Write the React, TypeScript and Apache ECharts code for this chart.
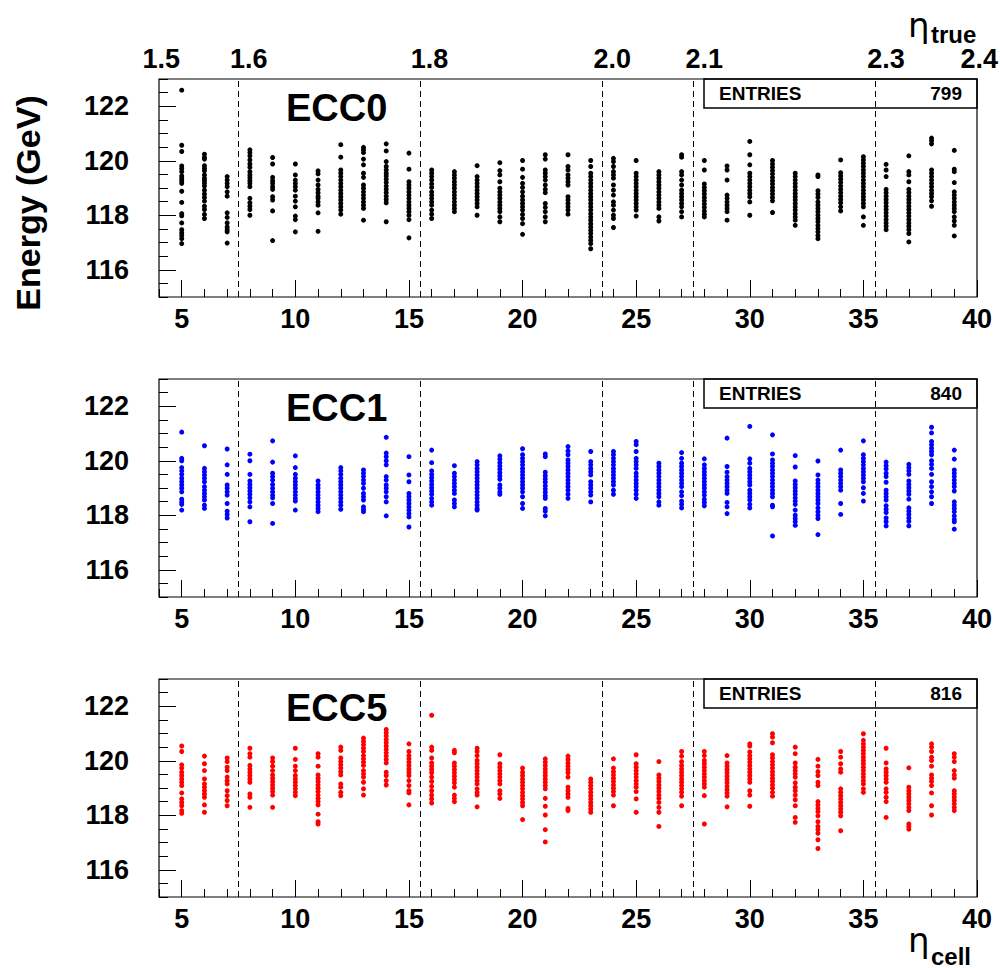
import React, { useEffect, useRef } from "react";
import * as echarts from "echarts";

const cells = [5, 6, 7, 8, 9, 10, 11, 12, 13, 14, 15, 16, 17, 18, 19, 20, 21, 22, 23, 24, 25, 26, 27, 28, 29, 30, 31, 32, 33, 34, 35, 36, 37, 38, 39];

const ecc0Energies = [
  [122.59, 120.57, 120.34, 119.81, 119.71, 119.6, 119.44, 119.34, 119.26, 119.17, 118.88, 118.47, 118.06, 117.98, 117.72, 117.47, 117.36, 117.26, 117.14, 116.96],
  [120.24, 120.12, 120.06, 119.82, 119.72, 119.63, 119.48, 119.36, 119.27, 119.17, 119.07, 118.92, 118.78, 118.65, 118.52, 118.33, 118.21, 118.03, 117.88],
  [119.42, 119.29, 119.17, 119.05, 118.86, 118.7, 118.09, 117.92, 117.72, 117.57, 117.47, 117.39, 116.98],
  [120.4, 120.3, 120.18, 120.03, 119.88, 119.76, 119.6, 119.48, 119.38, 119.27, 119.17, 119.05, 118.62, 118.46, 118.33, 118.21, 118.0],
  [120.12, 119.88, 119.39, 119.27, 119.17, 119.05, 118.95, 118.68, 118.56, 118.16, 117.07],
  [119.88, 119.48, 119.29, 119.17, 119.05, 118.92, 118.7, 118.52, 118.31, 117.97, 117.84, 117.39],
  [119.63, 119.52, 119.29, 119.11, 118.95, 118.83, 118.7, 118.62, 118.49, 118.37, 118.09, 117.41],
  [120.59, 120.13, 119.66, 119.54, 119.42, 119.29, 119.17, 119.05, 118.92, 118.8, 118.68, 118.56, 118.43, 118.31, 118.19, 118.04],
  [120.49, 120.4, 120.3, 120.06, 119.85, 119.54, 119.39, 119.11, 118.99, 118.86, 118.74, 118.62, 118.49, 118.37, 118.25, 117.82],
  [120.62, 120.36, 119.97, 119.79, 119.66, 119.54, 119.44, 119.32, 119.2, 119.07, 118.95, 118.83, 118.7, 118.58, 118.46, 117.76],
  [120.28, 119.69, 119.23, 119.11, 118.99, 118.86, 118.74, 118.62, 118.49, 118.37, 118.25, 118.13, 118.0, 117.84, 117.17],
  [119.66, 119.54, 119.42, 119.29, 119.15, 119.02, 118.86, 118.74, 118.62, 118.49, 118.37, 118.19, 118.04, 117.88],
  [119.6, 119.48, 119.36, 119.23, 119.11, 118.99, 118.86, 118.74, 118.62, 118.49, 118.37, 118.25, 118.13],
  [119.82, 119.42, 119.29, 119.17, 119.05, 118.92, 118.8, 118.68, 118.56, 118.43, 118.31, 118.0],
  [119.93, 119.64, 119.48, 119.23, 118.99, 118.86, 118.74, 118.62, 118.49, 118.37, 118.25, 118.13, 117.94, 117.76],
  [120.01, 119.69, 119.39, 119.17, 119.02, 118.86, 118.7, 118.56, 118.43, 118.31, 118.19, 118.03, 117.88, 117.69, 117.3],
  [120.22, 120.06, 119.66, 119.54, 119.42, 119.29, 119.11, 118.95, 118.83, 118.43, 118.29, 118.13, 117.94, 117.76],
  [120.22, 119.79, 119.66, 119.48, 119.36, 119.23, 119.11, 118.68, 118.56, 118.43, 118.31, 118.19, 118.04],
  [120.01, 119.79, 119.54, 119.42, 119.29, 119.17, 119.05, 118.92, 118.8, 118.68, 118.56, 118.43, 118.31, 118.19, 118.06, 117.94, 117.82, 117.69, 117.57, 117.45, 117.33, 117.2, 117.08, 116.96, 116.77],
  [120.09, 119.97, 119.79, 119.6, 119.48, 119.36, 119.11, 118.92, 118.74, 118.49, 118.37, 118.19, 118.0, 117.88, 117.55],
  [120.01, 119.54, 119.42, 119.29, 119.17, 119.05, 118.92, 118.8, 118.68, 118.56, 118.43, 118.31, 118.19, 117.97],
  [119.6, 119.48, 119.36, 119.23, 119.11, 118.99, 118.86, 118.74, 118.62, 118.49, 118.37, 118.25, 117.94, 117.79],
  [120.22, 120.13, 119.6, 119.48, 119.29, 119.11, 118.92, 118.8, 118.68, 118.56, 118.43, 118.31, 118.13, 117.94],
  [120.01, 119.66, 119.15, 119.02, 118.9, 118.78, 118.65, 118.53, 118.41, 118.29, 118.16, 118.04, 117.94],
  [119.81, 119.66, 119.29, 118.74, 118.62, 118.49, 118.37, 118.25, 118.13, 117.82],
  [120.71, 120.22, 119.85, 119.54, 119.42, 119.29, 119.17, 119.05, 118.92, 118.8, 118.68, 118.49, 118.0],
  [120.01, 119.88, 119.76, 119.64, 119.52, 119.39, 119.27, 119.15, 119.02, 118.9, 118.78, 118.65, 118.53, 118.1],
  [119.54, 119.42, 119.29, 119.17, 119.05, 118.92, 118.8, 118.68, 118.56, 118.43, 118.31, 118.19, 118.06, 117.94, 117.82, 117.63],
  [119.48, 119.42, 118.9, 118.78, 118.65, 118.49, 118.37, 118.25, 118.13, 118.0, 117.88, 117.76, 117.63, 117.51, 117.39, 117.26, 117.14],
  [120.03, 119.56, 119.44, 119.32, 119.2, 119.07, 118.95, 118.83, 118.7, 118.58, 118.46, 118.31, 118.16],
  [120.15, 120.03, 119.91, 119.79, 119.66, 119.54, 119.42, 119.29, 119.17, 119.05, 118.92, 118.8, 118.68, 118.56, 118.43, 118.31, 117.94, 117.63],
  [119.87, 119.66, 119.42, 118.95, 118.83, 118.7, 118.58, 118.46, 118.33, 118.21, 118.09, 117.97, 117.84, 117.72, 117.6, 117.47],
  [120.18, 119.6, 119.48, 119.23, 118.95, 118.83, 118.7, 118.58, 118.46, 118.33, 118.21, 118.09, 117.97, 117.84, 117.72, 117.6, 117.47, 117.33, 117.02],
  [120.83, 120.73, 120.62, 119.66, 119.54, 119.42, 119.29, 119.17, 119.05, 118.92, 118.8, 118.68, 118.53, 118.33],
  [120.38, 119.69, 119.6, 119.2, 118.86, 118.74, 118.62, 118.49, 118.37, 118.25, 118.13, 117.94, 117.79, 117.63, 117.24],
];

const ecc1Energies = [
  [121.05, 120.09, 120.0, 119.75, 119.63, 119.5, 119.36, 119.23, 119.11, 118.99, 118.86, 118.59, 118.49, 118.4, 118.19],
  [120.55, 119.72, 119.6, 119.48, 119.36, 119.23, 119.05, 118.92, 118.8, 118.68, 118.56, 118.37, 118.25],
  [120.43, 119.85, 119.5, 119.11, 118.99, 118.86, 118.74, 118.43, 118.15, 118.03, 117.9],
  [120.24, 120.0, 119.5, 119.26, 119.13, 119.01, 118.89, 118.77, 118.64, 118.49, 118.31, 117.76],
  [120.73, 119.95, 119.54, 119.42, 119.29, 119.13, 118.99, 118.86, 118.74, 118.64, 118.43, 117.7],
  [120.18, 119.75, 119.5, 119.36, 119.23, 119.11, 118.99, 118.86, 118.74, 118.62, 118.52, 118.19],
  [119.26, 119.11, 118.99, 118.86, 118.74, 118.62, 118.49, 118.37, 118.25, 118.13],
  [119.75, 119.63, 119.5, 119.36, 119.23, 119.11, 118.99, 118.86, 118.74, 118.62, 118.49, 118.37, 118.22],
  [119.66, 119.54, 119.42, 119.29, 119.17, 118.99, 118.8, 118.68, 118.56, 118.31, 118.21, 118.13],
  [120.86, 120.28, 120.15, 120.0, 119.85, 119.42, 119.29, 119.11, 118.99, 118.86, 118.68, 118.49, 117.98],
  [120.15, 119.48, 119.23, 118.8, 118.68, 118.56, 118.43, 118.31, 118.19, 118.06, 117.94, 117.57],
  [120.39, 119.93, 119.63, 119.5, 119.38, 119.26, 119.13, 119.01, 118.89, 118.77, 118.62, 118.49, 118.37],
  [119.82, 119.54, 119.42, 119.29, 119.17, 119.05, 118.92, 118.8, 118.56, 118.43, 118.31],
  [119.97, 119.85, 119.72, 119.6, 119.48, 119.36, 119.23, 119.11, 118.99, 118.86, 118.74, 118.62, 118.49, 118.37, 118.25, 118.19],
  [120.18, 120.06, 119.93, 119.81, 119.69, 119.56, 119.44, 119.32, 119.11, 118.99, 118.86, 118.77],
  [120.44, 120.22, 120.09, 119.97, 119.85, 119.72, 119.6, 119.48, 119.36, 119.23, 119.11, 118.99, 118.86, 118.68, 118.43, 118.25],
  [120.25, 120.15, 119.58, 119.45, 119.33, 119.21, 119.08, 118.96, 118.84, 118.72, 118.62, 118.25, 118.15, 117.98],
  [120.52, 120.36, 120.22, 120.03, 119.91, 119.79, 119.66, 119.54, 119.42, 119.29, 119.17, 119.05, 118.92, 118.77, 118.62],
  [120.34, 119.97, 119.85, 119.72, 119.6, 119.48, 119.23, 119.11, 118.99, 118.86, 118.74, 118.49],
  [120.34, 120.22, 120.09, 119.97, 119.85, 119.72, 119.6, 119.48, 119.36, 119.23, 119.11, 118.92, 118.77],
  [120.71, 120.59, 120.34, 120.09, 119.97, 119.85, 119.72, 119.54, 119.42, 119.29, 119.17, 119.05, 118.92, 118.77, 118.62],
  [119.91, 119.79, 119.66, 119.54, 119.42, 119.29, 119.17, 119.05, 118.92, 118.8, 118.68, 118.49, 118.37],
  [120.3, 120.09, 119.91, 119.79, 119.66, 119.54, 119.42, 119.29, 119.17, 119.05, 118.86, 118.72, 118.52, 118.4, 118.27],
  [120.07, 119.85, 119.72, 119.6, 119.48, 119.36, 119.23, 119.11, 118.99, 118.86, 118.74, 118.59, 118.47, 118.35],
  [120.83, 119.79, 119.58, 119.42, 119.29, 119.17, 119.05, 118.92, 118.8, 118.47, 118.31, 118.06],
  [121.26, 120.07, 119.91, 119.72, 119.6, 119.48, 119.36, 119.23, 119.11, 118.92, 118.8, 118.68, 118.56, 118.4, 118.27],
  [120.95, 120.25, 120.03, 119.91, 119.79, 119.66, 119.54, 119.42, 119.29, 119.17, 119.05, 118.92, 118.8, 118.68, 118.37, 118.31, 117.24],
  [120.19, 119.77, 119.26, 119.13, 119.01, 118.89, 118.77, 118.64, 118.52, 118.4, 118.19, 118.0, 117.88, 117.76, 117.63],
  [119.99, 119.48, 119.29, 119.17, 119.05, 118.92, 118.8, 118.68, 118.56, 118.43, 118.27, 118.13, 118.0, 117.88, 117.29],
  [120.39, 119.66, 119.54, 119.42, 119.29, 119.17, 119.05, 118.92, 118.43, 118.03],
  [120.73, 120.22, 120.09, 119.97, 119.85, 119.72, 119.6, 119.48, 119.36, 119.23, 119.01, 118.8, 118.52],
  [119.95, 119.82, 119.7, 119.54, 119.42, 119.21, 118.92, 118.8, 118.68, 118.56, 118.35, 118.22, 118.1, 117.9, 117.76, 117.61],
  [119.87, 119.75, 119.63, 119.5, 119.26, 119.13, 119.01, 118.89, 118.77, 118.59, 118.27, 118.15, 118.03, 117.9, 117.78, 117.61],
  [121.23, 121.02, 120.71, 120.59, 120.46, 120.34, 120.22, 120.0, 119.87, 119.72, 119.5, 119.23, 119.05, 118.86, 118.68, 118.43],
  [120.39, 120.06, 119.66, 119.54, 119.42, 119.29, 119.17, 119.05, 118.89, 118.49, 118.37, 118.25, 118.13, 117.98, 117.85, 117.76, 117.49],
];

const ecc5Energies = [
  [120.54, 120.34, 119.85, 119.73, 119.58, 119.46, 119.33, 119.21, 119.09, 118.82, 118.6, 118.47, 118.35, 118.17, 118.07],
  [120.17, 119.89, 119.64, 119.33, 119.15, 119.03, 118.9, 118.78, 118.66, 118.38, 118.11],
  [120.1, 119.97, 119.76, 119.64, 119.4, 119.27, 119.15, 118.9, 118.72, 118.54, 118.35],
  [120.46, 120.26, 120.13, 119.83, 119.7, 119.58, 119.46, 119.33, 119.21, 118.78, 118.66, 118.29],
  [120.1, 119.97, 119.8, 119.64, 119.48, 119.36, 119.24, 119.11, 118.99, 118.87, 118.74, 118.29],
  [120.46, 120.05, 119.8, 119.64, 119.46, 119.33, 119.21, 119.09, 118.97, 118.84, 118.72],
  [120.26, 120.13, 119.8, 119.48, 119.36, 119.24, 119.11, 118.99, 118.87, 118.74, 118.62, 118.5, 118.38, 118.04, 117.76, 117.68],
  [120.5, 120.38, 120.1, 119.97, 119.85, 119.73, 119.6, 119.48, 119.15, 119.03, 118.84, 118.72],
  [120.83, 120.71, 120.59, 120.46, 120.34, 120.19, 120.07, 119.95, 119.83, 119.64, 119.52, 119.4, 119.21, 118.97, 118.74],
  [121.15, 121.03, 120.91, 120.78, 120.66, 120.54, 120.42, 120.29, 120.17, 120.05, 119.92, 119.58, 119.46, 119.27, 119.11],
  [120.62, 120.34, 120.19, 120.07, 119.95, 119.83, 119.7, 119.58, 119.46, 119.27, 119.09, 118.9, 118.82, 118.38],
  [121.67, 120.5, 120.38, 120.1, 119.92, 119.8, 119.68, 119.56, 119.4, 119.24, 119.06, 118.9, 118.74, 118.6, 118.45],
  [120.38, 120.29, 119.92, 119.8, 119.68, 119.56, 119.43, 119.31, 119.19, 119.03, 118.74, 118.62, 118.5],
  [120.46, 120.34, 120.19, 120.01, 119.89, 119.76, 119.64, 119.52, 119.4, 119.27, 119.15, 118.97, 118.84, 118.74, 118.31],
  [120.22, 119.89, 119.76, 119.64, 119.52, 119.4, 119.27, 119.15, 118.9, 118.78, 118.62],
  [119.73, 119.58, 119.46, 119.33, 119.21, 119.09, 118.97, 118.84, 118.72, 118.6, 118.47, 118.35, 117.84],
  [120.07, 119.95, 119.83, 119.7, 119.58, 119.46, 119.33, 119.21, 119.09, 118.97, 118.62, 118.33, 118.01, 117.47, 117.02],
  [120.17, 120.05, 119.92, 119.8, 119.68, 119.56, 119.4, 119.03, 118.9, 118.78, 118.66, 118.25, 118.17],
  [119.33, 119.21, 119.09, 118.97, 118.84, 118.72, 118.6, 118.47, 118.35, 118.23, 118.11],
  [120.07, 119.73, 119.6, 119.48, 119.36, 119.24, 119.11, 118.99, 118.87, 118.74, 118.35],
  [120.22, 119.89, 119.76, 119.64, 119.52, 119.4, 119.27, 119.15, 119.03, 118.87, 118.6, 118.11],
  [119.97, 119.48, 119.36, 119.24, 119.11, 118.99, 118.87, 118.74, 118.62, 118.47, 118.29, 118.11, 117.59],
  [120.34, 120.17, 119.97, 119.83, 119.7, 119.58, 119.46, 119.33, 119.21, 119.09, 118.97, 118.84, 118.7, 118.35],
  [120.34, 120.19, 120.01, 119.89, 119.76, 119.64, 119.52, 119.4, 119.27, 119.15, 119.03, 118.72, 117.68],
  [120.19, 119.92, 119.8, 119.68, 119.56, 119.43, 119.31, 119.19, 119.06, 118.94, 118.82, 118.7, 118.31],
  [120.62, 120.54, 120.32, 120.19, 120.07, 119.95, 119.83, 119.7, 119.58, 119.46, 119.33, 119.21, 118.9, 118.74, 118.33],
  [120.99, 120.87, 120.66, 120.22, 120.1, 119.97, 119.85, 119.73, 119.6, 119.48, 119.36, 119.24, 119.11, 118.99, 118.84, 118.7],
  [120.5, 120.26, 119.92, 119.76, 119.64, 119.52, 119.4, 119.19, 119.03, 118.9, 118.74, 118.57, 118.35, 117.92, 117.74],
  [120.05, 119.8, 119.6, 119.46, 119.21, 119.09, 118.5, 118.38, 118.25, 118.13, 117.98, 117.76, 117.59, 117.47, 117.34, 117.1, 116.78],
  [120.34, 120.13, 119.89, 119.7, 119.58, 118.97, 118.84, 118.72, 118.6, 118.47, 118.35, 118.23, 118.11, 117.98, 117.43],
  [120.99, 120.75, 120.62, 120.5, 120.38, 120.26, 120.13, 120.01, 119.89, 119.76, 119.64, 119.52, 119.4, 119.27, 119.15, 118.97, 118.84],
  [120.46, 119.92, 119.7, 119.58, 119.46, 119.33, 119.21, 118.97, 118.84, 118.66, 118.5, 117.92],
  [119.74, 119.03, 118.9, 118.78, 118.66, 118.54, 118.42, 118.29, 118.17, 117.68, 117.59, 117.49],
  [120.62, 120.5, 120.34, 120.13, 120.01, 119.8, 119.48, 119.36, 119.24, 119.09, 118.82, 118.35, 118.01],
  [120.26, 120.13, 119.97, 119.64, 119.48, 119.36, 118.9, 118.78, 118.66, 118.54, 118.42, 118.29, 118.17],
];

const panelEnergies = [ecc0Energies, ecc1Energies, ecc5Energies];
const panelNames = ["ECC0", "ECC1", "ECC5"];
const panelEntries = ["799", "840", "816"];
const panelColors = ["#000000", "#0000ff", "#ff0000"];
const boundaryCells = [7.5, 15.5, 23.5, 27.5, 35.5];
const xMajorTicks = [5, 10, 15, 20, 25, 30, 35, 40];
const yMajorTicks = [116, 118, 120, 122];
const etaTrueLabels = ["1.5", "1.6", "1.8", "2.0", "2.1", "2.3", "2.4"];
const etaTrueCellPositions = [4.1, 7.95, 15.9, 23.95, 28.0, 36.0, 40.1];

const FONT = '"Liberation Sans", Arial, Helvetica, sans-serif';
const LEFT = 159;
const WIDTH = 818;
const HEIGHT = 218;
const TOPS = [79, 379, 679];
const X_MIN = 4;
const X_MAX = 40;

function cellToPx(v: number) {
  return LEFT + ((v - X_MIN) / (X_MAX - X_MIN)) * WIDTH;
}

export default function App() {
  const ref = useRef<HTMLDivElement>(null);

  useEffect(() => {
    if (!ref.current) return;
    const chart = echarts.init(ref.current, null, { renderer: "svg" });

    const grids: any[] = [];
    const xAxes: any[] = [];
    const yAxes: any[] = [];
    const series: any[] = [];
    const graphics: any[] = [];
    const tickLine = { color: "#000", width: 1 };

    TOPS.forEach((top, g) => {
      grids.push({
        left: LEFT,
        top,
        width: WIDTH,
        height: HEIGHT,
        containLabel: false,
        outerBoundsMode: "none",
        show: true,
        borderColor: "#000",
        borderWidth: 1.2,
        backgroundColor: "transparent",
      });
      xAxes.push({
        gridIndex: g,
        type: "value",
        position: "bottom",
        min: X_MIN,
        max: X_MAX,
        interval: 1,
        axisLine: { show: false },
        axisTick: { show: true, inside: true, length: 8, lineStyle: tickLine },
        axisLabel: { show: false },
        splitLine: { show: false },
      });
      xAxes.push({
        gridIndex: g,
        type: "value",
        position: "bottom",
        offset: 0,
        min: X_MIN,
        max: X_MAX,
        axisLine: { show: false },
        axisTick: { show: true, inside: true, length: 17, customValues: xMajorTicks, lineStyle: tickLine },
        axisLabel: {
          show: true,
          customValues: xMajorTicks,
          fontSize: 27,
          fontWeight: "bold",
          fontFamily: FONT,
          color: "#000",
          margin: 8,
        },
        splitLine: { show: false },
      });
      yAxes.push({
        gridIndex: g,
        type: "value",
        position: "left",
        min: 115,
        max: 123,
        interval: 0.5,
        axisLine: { show: false },
        axisTick: { show: true, inside: true, length: 9, lineStyle: tickLine },
        axisLabel: { show: false },
        splitLine: { show: false },
      });
      yAxes.push({
        gridIndex: g,
        type: "value",
        position: "left",
        offset: 0,
        min: 115,
        max: 123,
        axisLine: { show: false },
        axisTick: { show: true, inside: true, length: 17, customValues: yMajorTicks, lineStyle: tickLine },
        axisLabel: {
          show: true,
          customValues: yMajorTicks,
          fontSize: 27,
          fontWeight: "bold",
          fontFamily: FONT,
          color: "#000",
          margin: 30,
        },
        splitLine: { show: false },
      });

      const data: number[][] = [];
      panelEnergies[g].forEach((col, i) => {
        col.forEach((e) => data.push([cells[i], e]));
      });

      series.push({
        type: "scatter",
        xAxisIndex: 2 * g,
        yAxisIndex: 2 * g,
        symbol: "circle",
        symbolSize: 5,
        itemStyle: { color: panelColors[g], opacity: 1 },
        silent: true,
        data,
        markLine: {
          silent: true,
          symbol: ["none", "none"],
          label: { show: false },
          lineStyle: { type: [6, 4], color: "#000", width: 1 },
          data: boundaryCells.map((v) => ({ xAxis: v })),
        },
      });

      graphics.push({
        type: "text",
        x: 286,
        y: top + 29,
        style: {
          text: panelNames[g],
          fontSize: 38,
          fontWeight: "bold",
          fontFamily: FONT,
          fill: "#000",
          textAlign: "left",
          textVerticalAlign: "middle",
        },
      });
      graphics.push({
        type: "rect",
        shape: { x: 704, y: top, width: LEFT + WIDTH - 704, height: 29 },
        style: { fill: "none", stroke: "#000", lineWidth: 1.5 },
      });
      graphics.push({
        type: "text",
        x: 719,
        y: top + 14.5,
        style: {
          text: "ENTRIES",
          fontSize: 19,
          fontWeight: "bold",
          fontFamily: FONT,
          fill: "#000",
          textAlign: "left",
          textVerticalAlign: "middle",
        },
      });
      graphics.push({
        type: "text",
        x: 962,
        y: top + 14.5,
        style: {
          text: panelEntries[g],
          fontSize: 19,
          fontWeight: "bold",
          fontFamily: FONT,
          fill: "#000",
          textAlign: "right",
          textVerticalAlign: "middle",
        },
      });
    });

    graphics.push({
      type: "text",
      x: 28,
      y: 203,
      rotation: Math.PI / 2,
      style: {
        text: "Energy (GeV)",
        fontSize: 34,
        fontWeight: "bold",
        fontFamily: FONT,
        fill: "#000",
        textAlign: "center",
        textVerticalAlign: "middle",
      },
    });

    etaTrueLabels.forEach((lab, i) => {
      graphics.push({
        type: "text",
        x: cellToPx(etaTrueCellPositions[i]),
        y: 59,
        style: {
          text: lab,
          fontSize: 27,
          fontWeight: "bold",
          fontFamily: FONT,
          fill: "#000",
          textAlign: "center",
          textVerticalAlign: "middle",
        },
      });
    });

    graphics.push({
      type: "text",
      x: 908,
      y: 25,
      style: { text: "η", fontSize: 34, fontFamily: '"DejaVu Sans", sans-serif', fill: "#000", textAlign: "left", textVerticalAlign: "middle" },
    });
    graphics.push({
      type: "text",
      x: 931,
      y: 34,
      style: { text: "true", fontSize: 24, fontWeight: "bold", fontFamily: FONT, fill: "#000", textAlign: "left", textVerticalAlign: "middle" },
    });
    graphics.push({
      type: "text",
      x: 908,
      y: 940,
      style: { text: "η", fontSize: 34, fontFamily: '"DejaVu Sans", sans-serif', fill: "#000", textAlign: "left", textVerticalAlign: "middle" },
    });
    graphics.push({
      type: "text",
      x: 931,
      y: 956,
      style: { text: "cell", fontSize: 24, fontWeight: "bold", fontFamily: FONT, fill: "#000", textAlign: "left", textVerticalAlign: "middle" },
    });

    chart.setOption({
      animation: false,
      backgroundColor: "#ffffff",
      grid: grids,
      xAxis: xAxes,
      yAxis: yAxes,
      series,
      graphic: graphics,
    });

    return () => chart.dispose();
  }, []);

  return (
    <div
      ref={ref}
      style={{ position: "fixed", left: 0, top: 0, width: 1000, height: 968, background: "#fff" }}
    />
  );
}
